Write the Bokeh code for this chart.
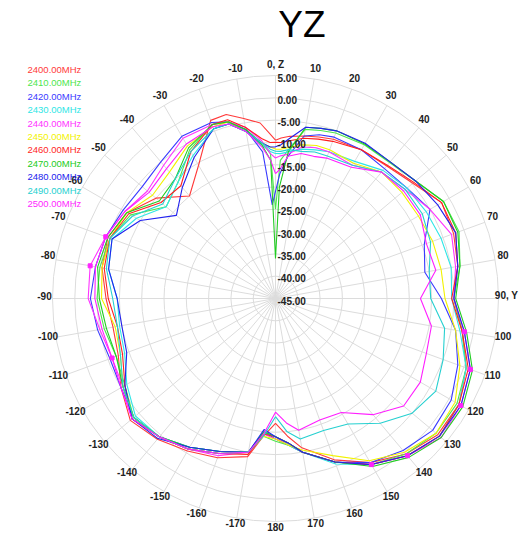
import numpy as np
from bokeh.plotting import figure
from bokeh.models import Range1d
from bokeh.embed import file_html
from bokeh.resources import INLINE
from bokeh.core.properties import value

# ---------------- data ----------------
title_text = "YZ"
angles = [0, 2, 5, 10, 15, 20, 30, 40, 50, 60, 70, 80, 90, 100, 110, 120, 130, 140, 150, 160,
          170, 175, 180, 185, 190, 200, 210, 220, 230, 240, 250, 260, 270, 280, 290, 300, 310,
          320, 330, 340, 345, 350, 355, 358]

freq_labels = ["2400.00MHz", "2410.00MHz", "2420.00MHz", "2430.00MHz", "2440.00MHz", "2450.00MHz",
               "2460.00MHz", "2470.00MHz", "2480.00MHz", "2490.00MHz", "2500.00MHz"]

s2400 = [-9.5, -9, -8.5, -8, -7.5, -7, -6.5, -6.2, -4.8, -2, -2.5, -3.5, -5, -2.5, 0.5, 2.5, 2.5, 0.5, -2.5, -6.5,
         -11, -14, -17, -14, -9, -7, -5.5, -3.8, -2.5, -5, -7.5, -8, -7, -5.5, -5, -6.5, -10, -15, -10.5, -2.5,
         -2.3, -4, -5.5, -8]
s2410 = [-25, -14, -11.5, -6.5, -6, -5.5, -5.2, -5.2, -4, -1.5, -1.2, -3, -5, -2.5, 0.5, 2, 2, 0.5, -2, -6,
         -10, -12, -13, -14, -10, -8, -6, -4.5, -3.5, -6, -7, -6, -5, -5, -5.5, -7.5, -13, -11, -6.5, -3.5,
         -4, -6.5, -10, -12.5]
s2420 = [-21, -17, -13, -8, -7, -6.5, -6.5, -7, -6.5, -5, -9.5, -11, -7.8, -4, -1.5, 0.5, 1, -0.5, -2.5, -6,
         -10, -12, -13.5, -15, -10, -8.5, -6.5, -4.5, -3.5, -5, -5.5, -4.5, -3.5, -4, -4.5, -5.5, -6, -5, -3, -3,
         -4, -6.5, -12, -24]
s2430 = [-12.5, -12.5, -12, -11, -10.5, -10, -9.5, -7.5, -6.5, -6, -5.5, -5, -5.5, -3, 0.5, 2.5, 3, 1, -2, -5.5,
         -10, -12, -14, -15, -10, -8.5, -6.5, -4.5, -4, -6.5, -9, -9.5, -9.5, -7, -6, -9, -13, -11, -8, -4.5,
         -4.5, -7, -10.5, -12]
s2440 = [-13.5, -13, -12.5, -10.5, -10, -10, -10.5, -8, -7, -5, -3, -4, -5, -2, 1.5, 3, 3.5, 1, -2, -6,
         -10, -12.5, -13.5, -14.5, -10, -7.5, -6, -4.5, -3, -5.5, -6, -5, -3, -2.8, -4.5, -6, -7.5, -6, -3.5, -3.5,
         -4, -6, -9.5, -12.5]
s2450 = [-11.5, -11.5, -11, -10, -9.5, -9.5, -10, -8, -8, -8, -7.5, -7.3, -7, -4, -1, 1.5, 2, 0, -3, -7.5,
         -10.5, -12, -13.5, -14, -10, -8, -6, -4.5, -3.5, -5.5, -8, -8.5, -6, -5.5, -5.5, -6.5, -9, -8, -5.5, -4,
         -4, -7, -10, -11]
s2460 = [-10, -10, -9.5, -8.5, -8, -7.5, -6.5, -6, -4.5, -2, -2, -3.5, -5.5, -2.5, 1, 2.5, 3, 1, -2, -6,
         -10, -12.5, -14, -14.5, -9.5, -8, -6, -4.5, -3, -6, -8.5, -9, -7.5, -6, -5.5, -7, -11.5, -12, -7, -3.5,
         -3.5, -6, -9, -10]
s2470 = [-36, -20, -12, -6, -5.5, -5, -5, -5, -4, -1.5, -1.5, -3, -4.6, -1.5, 2, 3.5, 3.5, 1.5, -1.5, -6,
         -10, -12.5, -14, -15, -10, -8.5, -6.5, -4.5, -3.5, -5.5, -7, -6.5, -5.5, -4.5, -5, -6.5, -11, -10, -6, -3.5,
         -4, -6.5, -10.5, -14]
s2480 = [-11, -10.5, -9, -6, -5.5, -5, -4.8, -5, -4, -3, -2, -3.5, -5, -2, 1.5, 3, 3, 1, -2, -6,
         -10, -12.5, -14, -15.5, -10, -8.5, -6.5, -4, -3, -6, -9.5, -10, -9.5, -7, -6, -10, -16, -12.5, -8.5, -4.5,
         -4.5, -7, -10, -11]
s2490 = [-12, -12, -11.5, -11.5, -11, -11, -10.5, -8, -7, -7, -8, -10, -10.2, -6.5, -5, -3.5, -5, -8.5, -12.5, -13.5,
         -13, -15, -18.5, -14, -10, -8, -6, -4.5, -3.5, -5.5, -8, -9, -8.5, -6.5, -5.5, -8, -12, -10, -7, -4.5,
         -4.5, -7, -10, -11.5]
s2500 = [-17, -16, -13, -12, -12, -11.5, -11, -8, -7.5, -7.5, -9, -8.5, -12.5, -9.5, -9, -7.5, -7.5, -11, -15.5, -16,
         -15, -17, -19.5, -14.5, -10, -8, -6, -4.5, -3, -5, -6, -5.5, -4.5, -4, -4.5, -6, -8, -7, -5, -4,
         -4.5, -7, -11, -14]

marker_angles = [100, 110, 120, 140, 150, 250, 280, 290]   # points of the 2440 trace that carry markers

radial_ticks = [5, 0, -5, -10, -15, -20, -25, -30, -35, -40, -45]
angle_ticks = list(range(0, 360, 10))

series = [s2400, s2410, s2420, s2430, s2440, s2450, s2460, s2470, s2480, s2490, s2500]
colors = ["#ff3a3a", "#4ee64e", "#3a3aff", "#2fe6e6", "#ff33ff", "#f2f200",
          "#ff1f1f", "#22cc22", "#2222ee", "#26d0d0", "#ff1fff"]
for s in series:
    assert len(s) == len(angles)

# ---------------- geometry ----------------
W, H = 525, 533
cx, cy = 275.0, 298.0
rmin, rmax = -45.0, 5.0
R = 223.0


def rad(db):
    return (np.asarray(db, dtype=float) - rmin) / (rmax - rmin) * R


def xy(theta_deg, r):
    t = np.radians(np.asarray(theta_deg, dtype=float))
    return cx + r * np.sin(t), cy - r * np.cos(t)


p = figure(width=W, height=H, x_range=Range1d(0, W), y_range=Range1d(H, 0),
           output_backend="svg", toolbar_location=None, min_border=0)
p.axis.visible = False
p.grid.visible = False
p.outline_line_color = None
p.background_fill_color = "white"
p.border_fill_color = "white"

grid_col = "#dcdcdc"
# rings
ring_r = [float(rad(v)) for v in radial_ticks if v > rmin]
p.circle(x=[cx] * len(ring_r), y=[cy] * len(ring_r), radius=ring_r,
         fill_color=None, line_color=grid_col, line_width=1)
# spokes
sx, sy = [], []
for a in angle_ticks:
    x1, y1 = xy(a, R)
    sx.append([cx, float(x1)])
    sy.append([cy, float(y1)])
p.multi_line(sx, sy, line_color=grid_col, line_width=1)

# traces
for s, c in zip(series, colors):
    x, y = xy(angles + [angles[0]], rad(s + [s[0]]))
    p.line(x, y, line_color=c, line_width=1.1)

# markers on the 2440 trace
mr = [s2440[angles.index(a)] for a in marker_angles]
mx, my = xy(marker_angles, rad(mr))
p.scatter(mx, my, marker="square", size=4, fill_color="#ff22ff", line_color="#ff22ff")

font = value("Liberation Sans")

# angle labels
lab_txt = []
for a in angle_ticks:
    if a == 0:
        lab_txt.append("0, Z")
    elif a == 90:
        lab_txt.append("90, Y")
    elif a <= 180:
        lab_txt.append(str(a))
    else:
        lab_txt.append(str(a - 360))
lx, ly = xy(angle_ticks, 231.0)
p.text(lx, ly - 3, text=lab_txt, text_font=font, text_font_size="10px",
       text_font_style="bold", text_align="center", text_baseline="middle", text_color="#222222")

# radial labels
rt_txt = ["%.2f" % v for v in radial_ticks]
ry = cy - rad(radial_ticks) + 2
p.text([cx + 2] * len(radial_ticks), ry, text=rt_txt, text_font=font, text_font_size="10px",
       text_font_style="bold", text_align="left", text_baseline="middle", text_color="#222222")

# legend (text only, coloured)
leg_y = [69 + 13.4 * i for i in range(len(freq_labels))]
p.text([27] * len(freq_labels), leg_y, text=freq_labels, text_font=font, text_font_size="9.5px",
       text_color=colors, text_align="left", text_baseline="middle")

# title
p.text([301.5], [24], text=[title_text], text_font=font, text_font_size="37px",
       text_align="center", text_baseline="middle", text_color="black")

open("out.html", "w").write(file_html(p, INLINE))
